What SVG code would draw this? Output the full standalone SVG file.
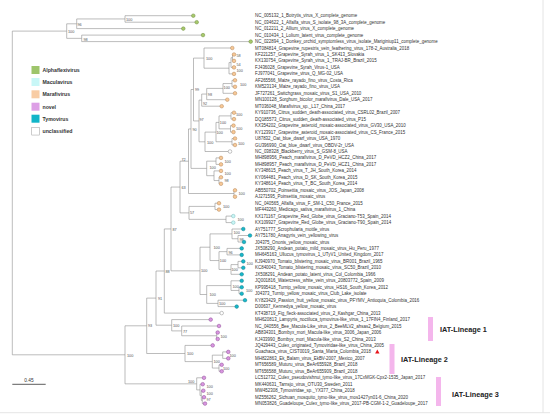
<svg xmlns="http://www.w3.org/2000/svg" width="550" height="420" viewBox="0 0 550 420">
<style>
text{font-family:"Liberation Sans",Arial,sans-serif}
.t{font-size:4.45px;fill:#333}
.b{font-size:3.8px;fill:#555}
.lg{font-size:5.2px;font-weight:bold;fill:#333}
.ln{font-size:7.3px;font-weight:bold;fill:#222}
.br{fill:none;stroke:#8e8e8e;stroke-width:0.6}
circle{stroke-width:0.5}
.al{fill:#a8c96c;stroke:#6d8c3c}
.ma{fill:#f7c896;stroke:#b58659}
.mc{fill:#c9f6f6;stroke:#7cbaba}
.no{fill:#d996e0;stroke:#8d4c96}
.ty{fill:#18b7c9;stroke:#0d7f8c}
.un{fill:#fff;stroke:#888}
.bar{fill:#f4b6ec}
</style>
<rect width="550" height="420" fill="#fff"/>
<line x1="543" y1="0" x2="543" y2="412.7" stroke="#ddd" stroke-width="0.8"/>
<line x1="0" y1="412.7" x2="550" y2="412.7" stroke="#ddd" stroke-width="0.8"/>
<g id="connectors">
<path class="br" d="M12.3 31.1V354.8M12.3 31.1H66.7M66.7 23.8V38.35M66.7 23.8H76.7M76.7 18.95V28.6M76.7 18.95H125M125 15.7V22.2M125 15.7H193.3M125 22.2H196.7M76.7 28.6H183.3M66.7 38.35H81.7M81.7 35.1V41.6M81.7 35.1H203M81.7 41.6H250.7
M12.3 354.8H125M125 325.8V383.85M125 325.8H146.7M146.7 298.1V353.5M146.7 298.1H156M156 271V325.2M156 271H164.3M164.3 228.95V313.1M164.3 313.1H221.7M164.3 228.95H171M171 187.05V270.85
M171 187.05H180M180 161.2V212.9M180 161.2H188.5M188.5 128.95V193.5M188.5 128.95H191M191 89.5V168.4M191 89.5H193.5M193.5 58.1V120.95M193.5 58.1H204M204 48V68.2M204 48H232.3M204 68.2H229M229 62.55V73.9M229 73.9H234M229 62.55H231M231 57.7V67.4M231 67.4H234M231 57.7H232.5M232.5 54.5V60.9M232.5 54.5H234M232.5 60.9H234
M193.5 120.95H199M199 100.1V141.8M199 100.1H201.7M201.7 94.05V106.2M201.7 106.2H221.7M201.7 94.05H206.7M206.7 88.4V99.7M206.7 99.7H227.3M206.7 88.4H223M223 83.55V93.3M223 93.3H235M223 83.55H232M232 80.3V86.8M232 80.3H235M232 86.8H235
M199 141.8H205M205 132.1V151.5M205 151.5H230M205 132.1H216M216 122.4V141.75M216 122.4H219M216 141.75H232M219 115.9V128.85M219 115.9H231M219 128.85H230.5M231 112.7V119.1M231 112.7H234M231 119.1H234M230.5 125.6V132.1M230.5 125.6H233.5M230.5 132.1H233.5M232 138.5V145M232 138.5H235M232 145H235
M191 168.4H206.7M206.7 161.15V175.7M206.7 161.15H216M206.7 175.7H214M216 157.9V164.4M216 157.9H221M216 164.4H221M214 170.9V180.55M214 170.9H221M214 180.55H219M219 177.3V183.8M219 177.3H221M219 183.8H221
M188.5 193.5H234M234 190.3V196.7M234 190.3H235M234 196.7H235
M180 212.9H189M189 206.4V219.35M189 206.4H215M189 219.35H226M215 203.2V209.6M215 203.2H219M215 209.6H219M226 216.1V222.6M226 216.1H233.3M226 222.6H233.3
M171 270.85H200M200 247.2V294.5M200 247.2H210M210 233.9V260.55M210 233.9H232M210 260.55H219M232 229V238.75M232 229H243.3M232 238.75H238M238 235.5V242M238 235.5H250M238 242H244M219 251.65V269.45M219 251.65H227M219 269.45H231M227 248.4V254.9M227 248.4H241.7M227 254.9H241.7M231 264.6V274.3M231 264.6H238M231 274.3H241.7M238 261.4V267.8M238 261.4H243.3M238 267.8H243.3
M200 294.5H206.7M206.7 285.6V303.4M206.7 285.6H231M206.7 303.4H218M231 280.8V290.45M231 280.8H241.7M231 290.45H239M239 287.2V293.7M239 287.2H241.7M239 293.7H241.7M218 300.2V306.6M218 300.2H245M218 306.6H236.7
M156 325.2H171.7M171.7 319.6V330.9M171.7 319.6H210.7M171.7 330.9H181.7M181.7 326V335.75M181.7 326H219M181.7 335.75H216.7M216.7 332.5V339M216.7 332.5H217.7M216.7 339H217.7
M146.7 353.5H185M185 345.4V361.6M185 345.4H212.7M185 361.6H212.3M212.3 355.15V368.05M212.3 355.15H222.7M222.7 351.9V358.4M222.7 351.9H228.3M222.7 358.4H228.3M212.3 368.05H219M219 364.8V371.3M219 364.8H221.7M219 371.3H221.7
M125 383.85H196.7M196.7 377.8V389.9M196.7 377.8H204M196.7 389.9H200M200 384.2V395.55M200 384.2H202.7M200 395.55H201.3M201.3 390.7V400.4M201.3 390.7H203.3M201.3 400.4H202.3M202.3 397.2V403.6M202.3 397.2H204M202.3 403.6H205"/>
</g>
<g id="bootstrap">
<text class="b" x="68" y="33">100</text>
<text class="b" x="77.5" y="26.3">96</text>
<text class="b" x="126" y="21.3">100</text>
<text class="b" x="83.5" y="41">98</text>
<text class="b" x="127" y="356.5">100</text>
<text class="b" x="148" y="327.4">93</text>
<text class="b" x="158" y="299.6">91</text>
<text class="b" x="165.5" y="272.5">88</text>
<text class="b" x="172.5" y="230.5">87</text>
<text class="b" x="181.5" y="189">63</text>
<text class="b" x="181.5" y="160.5">72</text>
<text class="b" x="192.5" y="130.7">90</text>
<text class="b" x="195" y="91.4">99</text>
<text class="b" x="206" y="60.4">100</text>
<text class="b" x="236.5" y="57">58</text>
<text class="b" x="236.5" y="66.4">54</text>
<text class="b" x="236.5" y="72">100</text>
<text class="b" x="240" y="85.5">100</text>
<text class="b" x="223.6" y="88.9">100</text>
<text class="b" x="207.8" y="96">98</text>
<text class="b" x="203" y="104.7">92</text>
<text class="b" x="199.5" y="120.7">97</text>
<text class="b" x="219.8" y="123.7">100</text>
<text class="b" x="216.5" y="134">100</text>
<text class="b" x="207" y="144">100</text>
<text class="b" x="236" y="116.4">100</text>
<text class="b" x="236" y="129.5">100</text>
<text class="b" x="238" y="144.5">100</text>
<text class="b" x="209.5" y="168.7">100</text>
<text class="b" x="224.5" y="162.5">100</text>
<text class="b" x="224.5" y="175.4">100</text>
<text class="b" x="224.5" y="182">98</text>
<text class="b" x="238.5" y="195.2">100</text>
<text class="b" x="190" y="214.3">57</text>
<text class="b" x="223" y="208">100</text>
<text class="b" x="237.5" y="220.7">100</text>
<text class="b" x="201" y="272.3">100</text>
<text class="b" x="213.5" y="249">100</text>
<text class="b" x="233.5" y="234">100</text>
<text class="b" x="239.5" y="240.5">98</text>
<text class="b" x="219.8" y="261.5">100</text>
<text class="b" x="228.5" y="253.5">96</text>
<text class="b" x="246.5" y="265">100</text>
<text class="b" x="231.5" y="270.8">100</text>
<text class="b" x="209.5" y="295.8">100</text>
<text class="b" x="232.5" y="287.5">100</text>
<text class="b" x="246" y="291.5">100</text>
<text class="b" x="219" y="304.8">100</text>
<text class="b" x="173" y="326.5">100</text>
<text class="b" x="183" y="332.5">77</text>
<text class="b" x="220.5" y="337.5">100</text>
<text class="b" x="187" y="355">100</text>
<text class="b" x="213.5" y="363">100</text>
<text class="b" x="229.5" y="356.5">100</text>
<text class="b" x="223" y="369.8">100</text>
<text class="b" x="188" y="383">100</text>
<text class="b" x="206.5" y="388">100</text>
<text class="b" x="206.5" y="394.5">100</text>
<text class="b" x="206.5" y="400.5">97</text>
</g>
<g id="leaf1"><circle class="al" cx="193.3" cy="15.7" r="1.8"/><text class="t" x="255" y="17.25">NC_005132_1_Botrytis_virus_X_complete_genome</text></g>
<g id="leaf2"><circle class="al" cx="196.7" cy="22.2" r="1.8"/><text class="t" x="255" y="23.75">NC_034622_1_Alfalfa_virus_S_isolate_98_3A_complete_genome</text></g>
<g id="leaf3"><circle class="al" cx="183.3" cy="28.6" r="1.8"/><text class="t" x="255" y="30.15">NC_012211_2_Allium_virus_X_complete_genome</text></g>
<g id="leaf4"><circle class="al" cx="203" cy="35.1" r="1.8"/><text class="t" x="255" y="36.65">NC_010434_1_Lolium_latent_virus_complete_genome</text></g>
<g id="leaf5"><circle class="al" cx="250.7" cy="41.6" r="1.8"/><text class="t" x="255" y="43.15">NC_022894_1_Donkey_orchid_symptomless_virus_isolate_Mariginiup11_complete_genome</text></g>
<g id="leaf6"><circle class="ma" cx="232.3" cy="48" r="1.8"/><text class="t" x="255" y="49.55">MT084814_Grapevine_rupestris_vein_feathering_virus_178-2_Australia_2018</text></g>
<g id="leaf7"><circle class="ma" cx="234" cy="54.5" r="1.8"/><text class="t" x="255" y="56.05">KF221257_Grapevine_Syrah_virus_1_SK413_Slovakia</text></g>
<g id="leaf8"><circle class="ma" cx="234" cy="60.9" r="1.8"/><text class="t" x="255" y="62.45">KX130754_Grapevine_Syrah_virus_1_TRAJ-BR_Brazil_2015</text></g>
<g id="leaf9"><circle class="ma" cx="234" cy="67.4" r="1.8"/><text class="t" x="255" y="68.95">FJ436028_Grapevine_Syrah_Virus-1_USA</text></g>
<g id="leaf10"><circle class="ma" cx="234" cy="73.9" r="1.8"/><text class="t" x="255" y="75.45">FJ977041_Grapevine_virus_Q_MG-02_USA</text></g>
<g id="leaf11"><circle class="ma" cx="235" cy="80.3" r="1.8"/><text class="t" x="255" y="81.85">AF265566_Maize_rayado_fino_virus_Costa_Rica</text></g>
<g id="leaf12"><circle class="ma" cx="235" cy="86.8" r="1.8"/><text class="t" x="255" y="88.35">KM523134_Maize_rayado_fino_virus_USA</text></g>
<g id="leaf13"><circle class="ma" cx="235" cy="93.3" r="1.8"/><text class="t" x="255" y="94.85">JF727261_Switchgrass_mosaic_virus_S1_USA_2010</text></g>
<g id="leaf14"><circle class="ma" cx="227.3" cy="99.7" r="1.8"/><text class="t" x="255" y="101.25">MN100128_Sorghum_bicolor_marafivirus_Dale_USA_2017</text></g>
<g id="leaf15"><circle class="ma" cx="221.7" cy="106.2" r="1.8"/><text class="t" x="255" y="107.75">MT036048_Marafivirus_sp._L17_China_2017</text></g>
<g id="leaf16"><circle class="ma" cx="234" cy="112.7" r="1.8"/><text class="t" x="255" y="114.25">KY910736_Citrus_sudden_death-associated_virus_CSRL02_Brazil_2007</text></g>
<g id="leaf17"><circle class="ma" cx="234" cy="119.1" r="1.8"/><text class="t" x="255" y="120.65">DQ185573_Citrus_sudden_death-associated_virus_P15</text></g>
<g id="leaf18"><circle class="ma" cx="233.5" cy="125.6" r="1.8"/><text class="t" x="255" y="127.15">KX354202_Grapevine_asteroid_mosaic-associated_virus_GV30_USA_2010</text></g>
<g id="leaf19"><circle class="ma" cx="233.5" cy="132.1" r="1.8"/><text class="t" x="255" y="133.65">KY123917_Grapevine_asteroid_mosaic-associated_virus_CS_France_2015</text></g>
<g id="leaf20"><circle class="ma" cx="235" cy="138.5" r="1.8"/><text class="t" x="255" y="140.05">U87832_Oat_blue_dwarf_virus_USA_1970</text></g>
<g id="leaf21"><circle class="ma" cx="235" cy="145" r="1.8"/><text class="t" x="255" y="146.55">GU396990_Oat_blue_dwarf_virus_OBDV-2r_USA</text></g>
<g id="leaf22"><circle class="un" cx="230" cy="151.5" r="1.8"/><text class="t" x="255" y="153.05">NC_038328_Blackberry_virus_S_GSM-8_USA</text></g>
<g id="leaf23"><circle class="ma" cx="221" cy="157.9" r="1.8"/><text class="t" x="255" y="159.45">MH898956_Peach_marafivirus_D_PeVD_HCZ2_China_2017</text></g>
<g id="leaf24"><circle class="ma" cx="221" cy="164.4" r="1.8"/><text class="t" x="255" y="165.95">MH898957_Peach_marafivirus_D_PeVD_HCZ1_China_2017</text></g>
<g id="leaf25"><circle class="ma" cx="221" cy="170.9" r="1.8"/><text class="t" x="255" y="172.45">KY348615_Peach_virus_T_JH_South_Korea_2014</text></g>
<g id="leaf26"><circle class="ma" cx="221" cy="177.3" r="1.8"/><text class="t" x="255" y="178.85">KY064481_Peach_virus_D_SK_South_Korea_2015</text></g>
<g id="leaf27"><circle class="ma" cx="221" cy="183.8" r="1.8"/><text class="t" x="255" y="185.35">KY348614_Peach_virus_T_BC_South_Korea_2014</text></g>
<g id="leaf28"><circle class="ma" cx="235" cy="190.3" r="1.8"/><text class="t" x="255" y="191.85">AB550702_Poinsettia_mosaic_virus_JOS_Japan_2008</text></g>
<g id="leaf29"><circle class="ma" cx="235" cy="196.7" r="1.8"/><text class="t" x="255" y="198.25">AJ271595_Poinsettia_mosaic_virus</text></g>
<g id="leaf30"><circle class="ma" cx="219" cy="203.2" r="1.8"/><text class="t" x="255" y="204.75">NC_040565_Alfalfa_virus_F_SM-1_C50_France_2015</text></g>
<g id="leaf31"><circle class="ma" cx="219" cy="209.6" r="1.8"/><text class="t" x="255" y="211.15">MF443260_Medicago_sativa_marafivirus_1_China</text></g>
<g id="leaf32"><circle class="mc" cx="233.3" cy="216.1" r="1.8"/><text class="t" x="255" y="217.65">KX171167_Grapevine_Red_Globe_virus_Graciano-T53_Spain_2014</text></g>
<g id="leaf33"><circle class="mc" cx="233.3" cy="222.6" r="1.8"/><text class="t" x="255" y="224.15">KX109927_Grapevine_Red_Globe_virus_Graciano-T90_Spain_2014</text></g>
<g id="leaf34"><circle class="ty" cx="243.3" cy="229" r="1.8"/><text class="t" x="255" y="230.55">AY751777_Scrophularia_mottle_virus</text></g>
<g id="leaf35"><circle class="ty" cx="250" cy="235.5" r="1.8"/><text class="t" x="255" y="237.05">AY751780_Anagyris_vein_yellowing_virus</text></g>
<g id="leaf36"><circle class="ty" cx="244" cy="242" r="1.8"/><text class="t" x="255" y="243.55">J04375_Ononis_yellow_mosaic_virus</text></g>
<g id="leaf37"><circle class="ty" cx="241.7" cy="248.4" r="1.8"/><text class="t" x="255" y="249.95">JX508290_Andean_potato_mild_mosaic_virus_Hu_Peru_1977</text></g>
<g id="leaf38"><circle class="ty" cx="241.7" cy="254.9" r="1.8"/><text class="t" x="255" y="256.45">MH645163_Ullucus_tymovirus_1_UTyV1_United_Kingdom_2017</text></g>
<g id="leaf39"><circle class="ty" cx="243.3" cy="261.4" r="1.8"/><text class="t" x="255" y="262.95">KJ940970_Tomato_blistering_mosaic_virus_BR001_Brazil_1965</text></g>
<g id="leaf40"><circle class="ty" cx="243.3" cy="267.8" r="1.8"/><text class="t" x="255" y="269.35">KC840043_Tomato_blistering_mosaic_virus_SC50_Brazil_2010</text></g>
<g id="leaf41"><circle class="ty" cx="241.7" cy="274.3" r="1.8"/><text class="t" x="255" y="275.85">JX508291_Andean_potato_latent_virus_Col_Colombia_1966</text></g>
<g id="leaf42"><circle class="ty" cx="241.7" cy="280.8" r="1.8"/><text class="t" x="255" y="282.35">JQ001816_Watercress_white_vein_virus_20803772_Spain_2009</text></g>
<g id="leaf43"><circle class="ty" cx="241.7" cy="287.2" r="1.8"/><text class="t" x="255" y="288.75">KP995418_Turnip_yellow_mosaic_virus_HS16_South_Korea_2012</text></g>
<g id="leaf44"><circle class="ty" cx="241.7" cy="293.7" r="1.8"/><text class="t" x="255" y="295.25">J04373_Turnip_yellow_mosaic_virus_Club_Lake_isolate</text></g>
<g id="leaf45"><circle class="ty" cx="245" cy="300.2" r="1.8"/><text class="t" x="255" y="301.75">KY823429_Passion_fruit_yellow_mosaic_virus_PFYMV_Antioquia_Colombia_2016</text></g>
<g id="leaf46"><circle class="ty" cx="236.7" cy="306.6" r="1.8"/><text class="t" x="255" y="308.15">D00637_Kennedya_yellow_mosaic_virus</text></g>
<g id="leaf47"><circle class="un" cx="221.7" cy="313.1" r="1.8"/><text class="t" x="255" y="314.65">KT438719_Fig_fleck-associated_virus_2_Kashgar_China_2013</text></g>
<g id="leaf48"><circle class="no" cx="210.7" cy="319.6" r="1.8"/><text class="t" x="255" y="321.15">MH620813_Lampyris_noctiluca_tymovirus-like_virus_1_17FIN4_Finland_2017</text></g>
<g id="leaf49"><circle class="no" cx="219" cy="326" r="1.8"/><text class="t" x="255" y="327.55">NC_040556_Bee_Macula-Like_virus_2_BeeMLV2_ahsas2_Belgium_2015</text></g>
<g id="leaf50"><circle class="no" cx="217.7" cy="332.5" r="1.8"/><text class="t" x="255" y="334.05">AB834301_Bombyx_mori_Macula-like_virus_3006_Japan_2006</text></g>
<g id="leaf51"><circle class="no" cx="217.7" cy="339" r="1.8"/><text class="t" x="255" y="340.55">KJ433990_Bombyx_mori_Macula-like_virus_S2_China_2013</text></g>
<g id="leaf52"><circle class="no" cx="212.7" cy="345.4" r="1.8"/><text class="t" x="255" y="346.95">JQ429443_Culex_originated_Tymoviridae-like_virus_China_2005</text></g>
<g id="leaf53"><circle class="no" cx="228.3" cy="351.9" r="1.8"/><text class="t" x="255" y="353.45">Guachaca_virus_CIST0019_Santa_Marta_Colombia_2018</text><path d="M377.3 349.6L379.5 353.4H375.1Z" fill="#e8141b"/></g>
<g id="leaf54"><circle class="no" cx="228.3" cy="358.4" r="1.8"/><text class="t" x="255" y="359.95">MH822863_Ek_Balam_virus_EkBV-2007_Mexico_2007</text></g>
<g id="leaf55"><circle class="no" cx="221.7" cy="364.8" r="1.8"/><text class="t" x="255" y="366.35">MT656589_Muturu_virus_BeAr655928_Brazil_2018</text></g>
<g id="leaf56"><circle class="no" cx="221.7" cy="371.3" r="1.8"/><text class="t" x="255" y="372.85">MT656588_Muturu_virus_BeAr655909_Brazil_2018</text></g>
<g id="leaf57"><circle class="no" cx="204" cy="377.8" r="1.8"/><text class="t" x="255" y="379.35">LC512732_Culex_pseudovishnui_tymo-like_virus_17CxMGK-Cpx2-1535_Japan_2017</text></g>
<g id="leaf58"><circle class="no" cx="202.7" cy="384.2" r="1.8"/><text class="t" x="255" y="385.75">MK440631_Tarnsjo_virus_OTU30_Sweden_2011</text></g>
<g id="leaf59"><circle class="no" cx="203.3" cy="390.7" r="1.8"/><text class="t" x="255" y="392.25">MW452308_Tymoviridae_sp._YX377_China_2018</text></g>
<g id="leaf60"><circle class="no" cx="204" cy="397.2" r="1.8"/><text class="t" x="255" y="398.75">MZ556262_Sichuan_mosquito_tymo-like_virus_mos1427yn01-6_China_2020</text></g>
<g id="leaf61"><circle class="no" cx="205" cy="403.6" r="1.8"/><text class="t" x="255" y="405.15">MN053826_Guadeloupe_Culex_tymo-like_virus_2017-PB-CGM-1-2_Guadeloupe_2017</text></g>
<g id="lineages">
<rect class="bar" x="428" y="317" width="5" height="24"/>
<text class="ln" x="440" y="331.5">IAT-Lineage 1</text>
<rect class="bar" x="389.5" y="344" width="5" height="30"/>
<text class="ln" x="401" y="362">IAT-Lineage 2</text>
<rect class="bar" x="436" y="377" width="5" height="29"/>
<text class="ln" x="452" y="396.5">IAT-Lineage 3</text>
</g>
<g id="legend">
<rect x="31.5" y="66" width="8" height="8" fill="#9ec56b"/><text class="lg" x="42.5" y="71.8">Alphaflexivirus</text>
<rect x="31.5" y="78" width="8" height="8" fill="#c8f7f7"/><text class="lg" x="42.5" y="83.8">Maculavirus</text>
<rect x="31.5" y="90.3" width="8" height="8" fill="#f8cca4"/><text class="lg" x="42.5" y="96.1">Marafivirus</text>
<rect x="31.5" y="102.7" width="8" height="8" fill="#dda0e6"/><text class="lg" x="42.5" y="108.5">novel</text>
<rect x="31.5" y="114.7" width="8" height="8" fill="#12b5c8"/><text class="lg" x="42.5" y="120.5">Tymovirus</text>
<rect x="31.75" y="127.55" width="7.5" height="7.5" fill="#fff" stroke="#999" stroke-width="0.5"/><text class="lg" x="42.5" y="133.1">unclassified</text>
</g>
<g id="scale">
<line x1="12.3" y1="384.3" x2="45.7" y2="384.3" stroke="#333" stroke-width="0.8"/>
<text x="29" y="382" font-size="4.8" fill="#333" text-anchor="middle">0.45</text>
</g>
</svg>
